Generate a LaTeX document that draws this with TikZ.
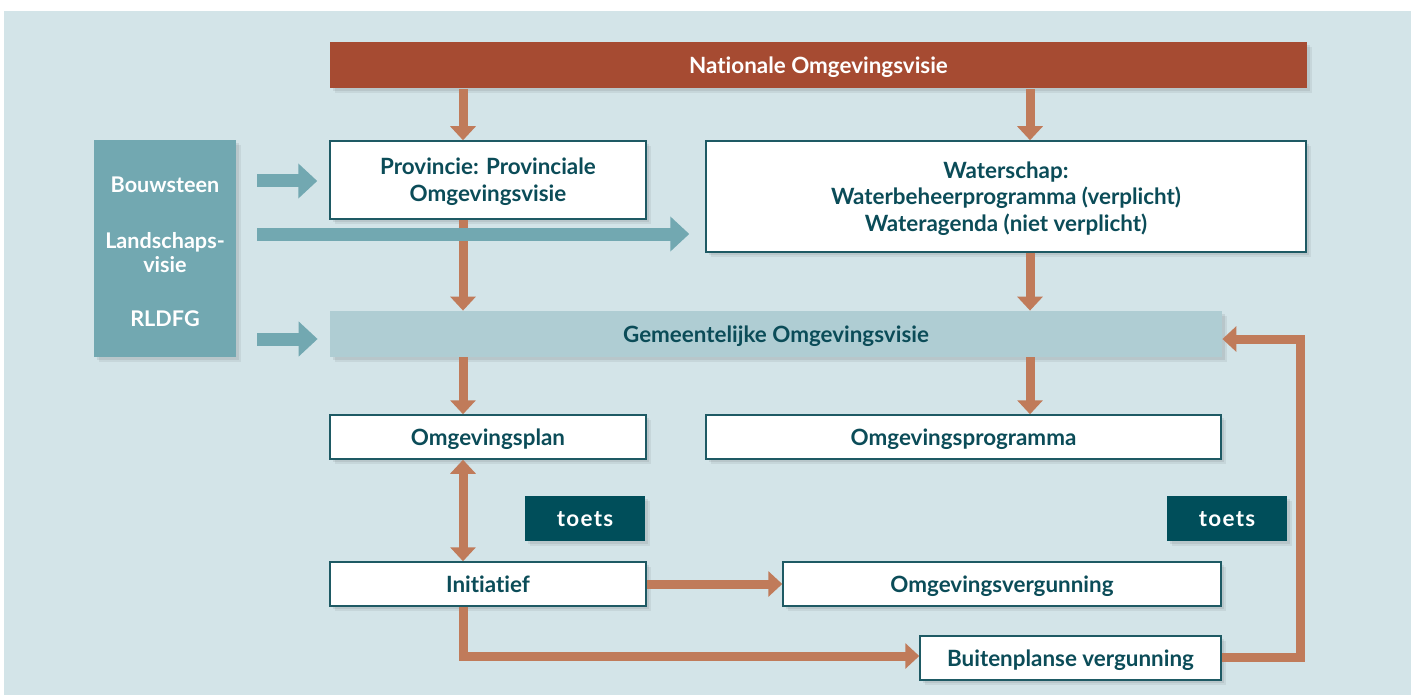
\documentclass[tikz,border=0pt]{standalone}
\usepackage{fontspec}
\setmainfont{Lato}[Ligatures={NoCommon}]
\usetikzlibrary{arrows.meta,calc,shadows}
\definecolor{bg}{HTML}{D3E4E8}
\definecolor{nat}{HTML}{A64B32}
\definecolor{oar}{HTML}{C07B5A}
\definecolor{tealblk}{HTML}{72A8B1}
\definecolor{gem}{HTML}{AFCDD3}
\definecolor{dk}{HTML}{004E5A}
\definecolor{txt}{HTML}{0B4C58}
\definecolor{bord}{HTML}{1E5A64}
\newcommand{\dfont}{\bfseries\fontsize{11.2}{13.4}\selectfont}
\tikzset{
  shd/.style={drop shadow={shadow xshift=2.5pt, shadow yshift=-2.5pt, opacity=0.06, fill=black},
              drop shadow={shadow xshift=1.5pt, shadow yshift=-1.5pt, opacity=0.07, fill=black}},
  wbox/.style={shd, draw=bord, line width=0.75pt, fill=white, text=txt, font=\dfont, align=center, inner sep=0pt, text depth=0pt},
  natbox/.style={shd, fill=nat, text=white, font=\dfont, inner sep=0pt, text depth=0pt},
  gembox/.style={shd, fill=gem, text=txt, font=\dfont, inner sep=0pt, text depth=0pt},
  tbox/.style={shd, fill=dk, text=white, font=\dfont\addfontfeature{LetterSpace=6}, inner sep=0pt, minimum width=60pt, minimum height=22.5pt, text depth=0pt},
  blk/.style={shd, fill=tealblk, inner sep=0pt},
  btxt/.style={text=white, font=\bfseries\fontsize{10.8}{12}\selectfont, align=center},
  oarrow/.style={draw=oar, line width=4.5pt, -{Triangle[width=12.5pt,length=7pt]}},
  odarrow/.style={draw=oar, line width=4.5pt, {Triangle[width=12.5pt,length=7pt]}-{Triangle[width=12.5pt,length=7pt]}},
  tarrow/.style={draw=tealblk, line width=6.5pt, -{Triangle[width=17pt,length=9.5pt]}},
}
\begin{document}
\begin{tikzpicture}[x=0.5pt,y=-0.5pt]
\useasboundingbox (0,0) rectangle (1416,695);
\fill[white] (0,0) rectangle (1416,695);
\fill[bg] (4,11) rectangle (1411,695);

\node[natbox, minimum width=488.5pt, minimum height=23pt] (nat) at (818.5,65.5) {Nationale Omgevingsvisie};
\node[wbox, minimum width=158pt, minimum height=39pt] (prov) at (488,180) {Provincie: Provinciale\\Omgevingsvisie};
\node[wbox, minimum width=300pt, minimum height=55.5pt] (wat) at (1006,196.5) {Waterschap:\\Waterbeheerprogramma (verplicht)\\Wateragenda (niet verplicht)};
\node[blk, minimum width=71pt, minimum height=108.5pt] (blk) at (165,248.5) {};
\node[btxt] (b1) at (165,185) {Bouwsteen};
\node[btxt] (b2) at (165,253) {Landschaps-\\visie};
\node[btxt] (b3) at (165,319) {RLDFG};
\node[gembox, minimum width=446pt, minimum height=23pt] (gem) at (776,334) {Gemeentelijke Omgevingsvisie};
\node[wbox, minimum width=158pt, minimum height=22pt] (plan) at (488,437) {Omgevingsplan};
\node[wbox, minimum width=257.5pt, minimum height=22pt] (prog) at (963.5,437) {Omgevingsprogramma};
\node[tbox] (t1) at (585,518.5) {toets};
\node[tbox] (t2) at (1227,518.5) {toets};
\node[wbox, minimum width=158pt, minimum height=22pt] (init) at (488,584) {Initiatief};
\node[wbox, minimum width=219pt, minimum height=22pt] (verg) at (1002,584) {Omgevingsvergunning};
\node[wbox, minimum width=150.5pt, minimum height=22pt] (buit) at (1070.5,658) {Buitenplanse vergunning};

\coordinate (wl) at ([yshift=-18.75pt]wat.west);
\coordinate (gl) at ([yshift=-2.5pt]gem.west);
\coordinate (pl) at ([yshift=-0.5pt]prov.west);

% orange arrows
\draw[oarrow] ([xshift=-12.5pt]prov.north |- nat.south) -- ([xshift=-12.5pt]prov.north);
\draw[oarrow] ([xshift=12pt]wat.north |- nat.south) -- ([xshift=12pt]wat.north);
\draw[oarrow] ([xshift=-12.5pt]prov.south) -- ([xshift=-12.5pt]prov.south |- gem.north);
\draw[oarrow] ([xshift=12pt]wat.south) -- ([xshift=12pt]wat.south |- gem.north);
\draw[oarrow] ([xshift=-12.5pt]plan.north |- gem.south) -- ([xshift=-12.5pt]plan.north);
\draw[oarrow] ([xshift=12pt]wat.south |- gem.south) -- ([xshift=12pt]wat.south |- prog.north);
\draw[odarrow] ([xshift=-12.5pt]plan.south) -- ([xshift=-12.5pt]init.north);
\draw[oarrow] (init.east) -- (verg.west);
\draw[oarrow, line join=miter] ([xshift=-12.5pt]init.south) |- ([yshift=1pt]buit.west);
\draw[oarrow, line join=miter] ([yshift=0.5pt]buit.east) -- ++(39.5pt,0) |- ([yshift=-2.5pt]gem.east);

% teal arrows
\draw[tarrow, shorten >=6pt] ([xshift=10.5pt]blk.east |- pl) -- (pl);
\draw[tarrow, shorten >=8pt] ([xshift=10.5pt]blk.east |- wl) -- (wl);
\draw[tarrow, shorten >=6pt] ([xshift=10.5pt]blk.east |- gl) -- (gl);
\end{tikzpicture}
\end{document}
